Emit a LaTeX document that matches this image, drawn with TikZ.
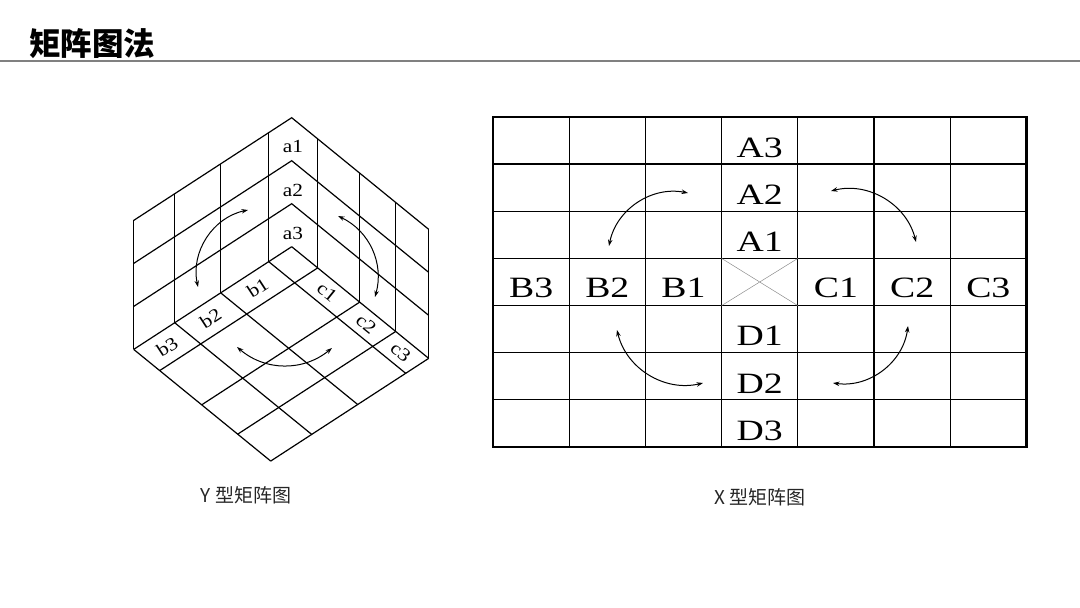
\documentclass[tikz,border=0pt]{standalone}
\usepackage{fontspec}
\setmainfont{Liberation Serif}
\newfontfamily\cjk{Noto Sans CJK SC}
\newfontfamily\cubefont[FakeStretch=1.15]{Liberation Serif}
\newfontfamily\gridfont[FakeStretch=1.28]{Liberation Serif}
\usetikzlibrary{calc,arrows.meta}

\begin{document}
\begin{tikzpicture}[x=1pt,y=-1pt,
    wall/.style={line width=1.2pt},
    cell/.style={line width=1.3pt},
    relarrow/.style={{Stealth[length=6.5pt,width=4.5pt]}-{Stealth[length=6.5pt,width=4.5pt]}, line width=1pt},
    clab/.style={font=\cubefont\fontsize{18.5}{18.5}\selectfont, inner sep=0pt},
    glab/.style={font=\gridfont\fontsize{29.5}{29.5}\selectfont, inner sep=0pt},
    figcap/.style={font=\cjk\fontsize{19}{19}\selectfont, text=black!85}]
    \useasboundingbox (0,0) rectangle (1080,608);

    % Title
    \node[anchor=west, inner sep=0pt, font=\cjk\bfseries\fontsize{31.5}{31.5}\selectfont] (title) at (29,44) {矩阵图法};
    \draw[line width=2pt, black!50] (0,61) -- (1080,61);

    % Y-type matrix - floor corner and grid points
    \coordinate (F) at (291.7,246.7);
    \foreach \i/\lx in {0/0,1/-23,2/-71,3/-117,4/-158}
        \coordinate (L\i) at ($(F)+({\lx},{-0.65*(\lx)})$);
    \foreach \j/\rx in {0/0,1/26,2/68,3/104,4/137}
        \coordinate (R\j) at ($(F)+({\rx},{0.815*(\rx)})$);

    % floor
    \foreach \i in {0,...,4} \draw[wall] (L\i) -- ($(L\i)+(R4)-(F)$);
    \foreach \j in {0,...,4} \draw[wall] (R\j) -- ($(R\j)+(L4)-(F)$);
    % walls
    \foreach \k in {1,2,3}
        \draw[wall] ($(L4)+(0,-43*\k)$) -- ($(F)+(0,-43*\k)$) -- ($(R4)+(0,-43*\k)$);
    \foreach \i in {1,...,4} \draw[wall] (L\i) -- ++(0,-129) (R\i) -- ++(0,-129);

    % labels
    \node[clab] (a1) at (293,146) {a1};
    \node[clab] (a2) at (293,190) {a2};
    \node[clab] (a3) at (293,233) {a3};
    \node[clab, rotate=33] (b1) at (257.7,287.8) {b1};
    \node[clab, rotate=33] (b2) at (210.7,318.4) {b2};
    \node[clab, rotate=33] (b3) at (167.2,346.7) {b3};
    \node[clab, rotate=-39] (c1) at (327.2,292.5) {c1};
    \node[clab, rotate=-39] (c2) at (366.2,324.3) {c2};
    \node[clab, rotate=-39] (c3) at (400.7,352.4) {c3};

    % arrows
    \coordinate (ya) at (248,210); \coordinate (yb) at (198,287);
    \coordinate (yc) at (338,216); \coordinate (yd) at (375,297);
    \coordinate (ye) at (237,347); \coordinate (yf) at (332,348);
    \draw[relarrow] (ya) to[bend right=45] (yb);
    \draw[relarrow] (yc) to[bend left=40] (yd);
    \draw[relarrow] (ye) to[bend right=40] (yf);

    \node[figcap] (ycap) at (246,495) {Y 型矩阵图};

    % X-type matrix - grid
    \foreach \c in {1,...,6} \draw[cell] ({493+76.2*\c},117) -- ++(0,330);
    \foreach \r in {1,...,6} \draw[cell] (493,{117+47.14*\r}) -- ++(533.4,0);
    \draw[line width=2.6pt] (493,117) rectangle (1026.4,447);
    \draw[black!45, line width=0.5pt] (721.6,258.4) -- (797.8,305.6) (721.6,305.6) -- (797.8,258.4);

    % labels
    \foreach \t [count=\r from 0] in {A3,A2,A1}
        \node[glab] (\t) at (759.7,{140.6+47.14*\r+7}) {\t};
    \foreach \t [count=\r from 4] in {D1,D2,D3}
        \node[glab] (\t) at (759.7,{140.6+47.14*\r+7}) {\t};
    \foreach \t/\c in {B3/0,B2/1,B1/2,C1/4,C2/5,C3/6}
        \node[glab] (\t) at ({531.1+76.2*\c},288) {\t};

    % arrows
    \coordinate (xa) at (688,193); \coordinate (xb) at (609,246);
    \coordinate (xc) at (831,191); \coordinate (xd) at (916,242);
    \coordinate (xe) at (617,330); \coordinate (xf) at (703,383);
    \coordinate (xg) at (908,326); \coordinate (xh) at (833,383);
    \draw[relarrow] (xa) to[bend right=45] (xb);
    \draw[relarrow] (xc) to[bend left=45] (xd);
    \draw[relarrow] (xe) to[bend right=45] (xf);
    \draw[relarrow] (xg) to[bend left=45] (xh);

    \node[figcap] (xcap) at (760,497) {X 型矩阵图};
\end{tikzpicture}
\end{document}
